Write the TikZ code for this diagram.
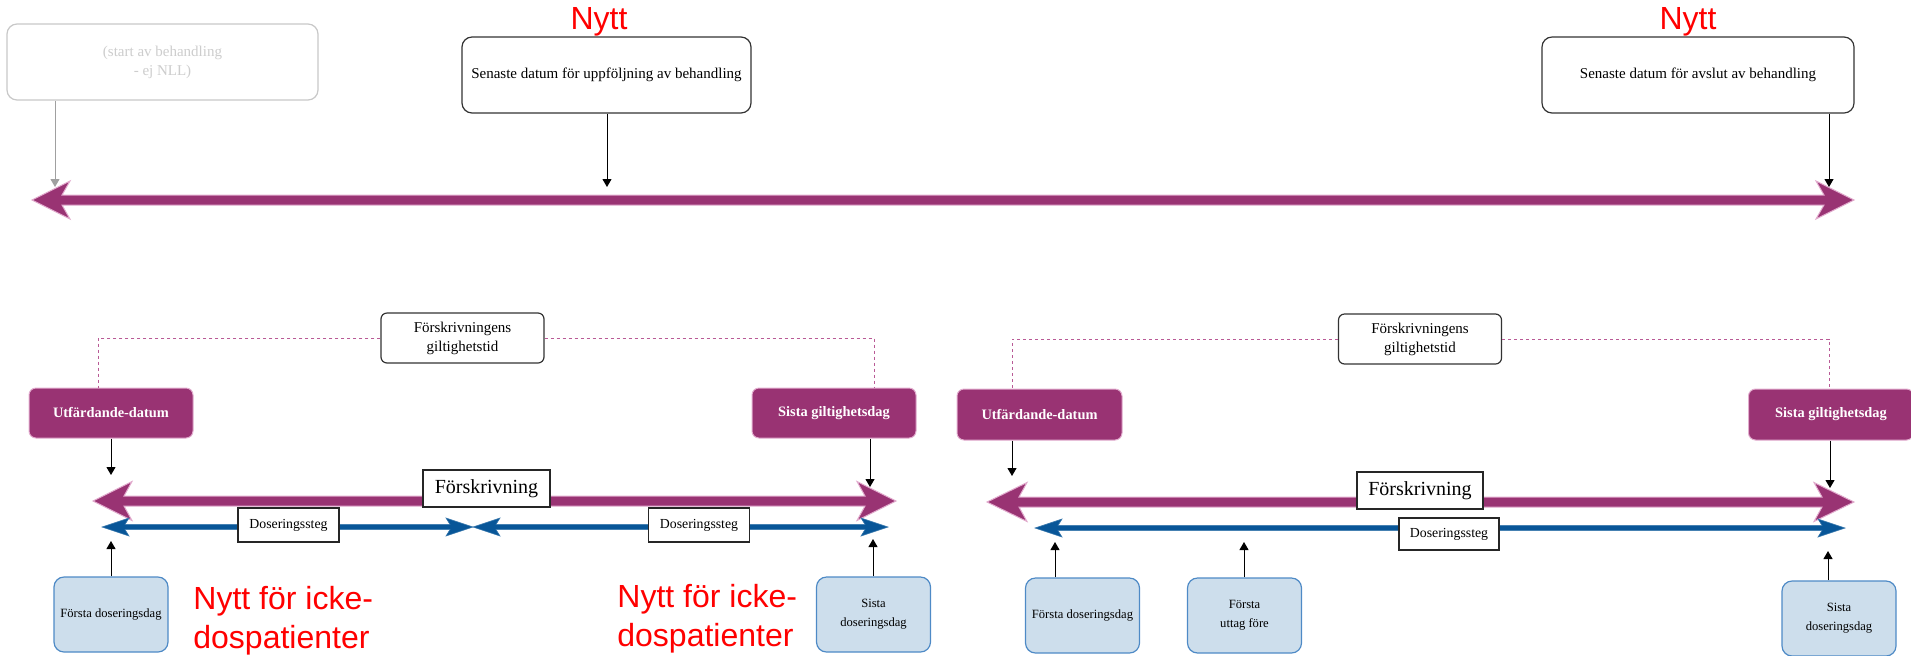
\documentclass[tikz,border=0pt]{standalone}
\usepackage{fontspec}
\setmainfont{Liberation Serif}
\newfontfamily\arialf{Liberation Sans}
\usetikzlibrary{arrows.meta}
\definecolor{purp}{RGB}{153,51,115}
\definecolor{pinkedge}{RGB}{226,172,206}
\definecolor{bluearr}{RGB}{8,86,152}
\definecolor{lightblue}{RGB}{205,222,236}
\definecolor{blueedge}{RGB}{78,138,198}
\definecolor{grayline}{RGB}{200,200,200}
\definecolor{graytext}{RGB}{205,205,205}
\definecolor{grayarrow}{RGB}{160,160,160}
\definecolor{dashcol}{RGB}{185,90,150}
\newcommand{\fatarr}[8]{%
 \filldraw[#1] (#2,#4) -- ({#2+#5},{#4-#6}) -- ({#2+#5-#8},{#4-#7}) -- ({#3-#5+#8},{#4-#7}) -- ({#3-#5},{#4-#6}) -- (#3,#4) -- ({#3-#5},{#4+#6}) -- ({#3-#5+#8},{#4+#7}) -- ({#2+#5-#8},{#4+#7}) -- ({#2+#5},{#4+#6}) -- cycle;}
\tikzset{
  whitebox/.style={draw=black!80, fill=white, rounded corners=5pt, line width=0.6pt, inner sep=0pt, align=center, font=\fontsize{7.5}{9.5}\selectfont},
  graybox/.style={draw=grayline, fill=white, rounded corners=5pt, line width=0.6pt, inner sep=0pt, align=center, text=graytext, font=\fontsize{7.5}{9.5}\selectfont, minimum width=155.5pt, minimum height=38pt},
  purpbox/.style={draw=pinkedge, fill=purp, rounded corners=3.5pt, line width=0.5pt, inner sep=0pt, align=center, text=white, font=\fontsize{7.2}{9}\selectfont\bfseries, minimum width=82pt, minimum height=25pt},
  giltbox/.style={whitebox, rounded corners=3pt, minimum width=81.5pt, minimum height=25pt},
  fskbox/.style={draw=black!85, fill=white, line width=0.6pt, inner sep=0pt, font=\fontsize{10}{12}\selectfont, minimum width=63.5pt, minimum height=18.5pt},
  dosbox/.style={draw=black!85, fill=white, line width=0.6pt, inner sep=0pt, font=\fontsize{6.9}{8}\selectfont, minimum width=50.5pt, minimum height=17pt},
  bluebox/.style={draw=blueedge, fill=lightblue, rounded corners=5pt, line width=0.6pt, inner sep=0pt, align=center, font=\fontsize{6.3}{9.5}\selectfont, minimum width=57pt, minimum height=37.5pt},
  conn/.style={-{Triangle[length=4pt,width=4.5pt]}, line width=0.5pt, black},
  grayconn/.style={-{Triangle[length=4pt,width=4.5pt]}, line width=0.5pt, grayarrow},
  dashconn/.style={draw=dashcol, line width=0.5pt, dash pattern=on 1.5pt off 1.5pt},
  purparrow/.style={fill=purp, draw=pinkedge, line width=0.5pt},
  bluearrow/.style={fill=bluearr, draw=bluearr!80, line width=0.3pt},
  redtext/.style={text=red, font=\arialf\fontsize{16}{19.5}\selectfont, inner sep=0pt}
}
\begin{document}
\begin{tikzpicture}[x=0.5pt,y=-0.5pt]
\useasboundingbox (0,0) rectangle (1911,655);

% ---------- top timeline ----------
\fatarr{purparrow}{32}{1854}{200}{38}{19}{5}{8}

\node[graybox] (gray) at (162.5,62) {(start av behandling\\ - ej NLL)};
\node[whitebox, minimum width=144.5pt, minimum height=38pt] (upp) at (606.5,75) {Senaste datum för uppföljning av behandling};
\node[whitebox, minimum width=156pt, minimum height=38pt] (avs) at (1698,75) {Senaste datum för avslut av behandling};
\node[redtext, anchor=base] (nytt1) at (599,29) {Nytt};
\node[redtext, anchor=base] (nytt2) at (1688,29) {Nytt};

\coordinate (g1) at (55,187);
\coordinate (u1) at (607,187);
\coordinate (a1) at (1829,187);
\draw[grayconn] (gray.south -| g1) -- (g1);
\draw[conn] (upp.south -| u1) -- (u1);
\draw[conn] (avs.south -| a1) -- (a1);

% ---------- lower left ----------
\fatarr{purparrow}{93}{896}{501}{39}{19.5}{5}{8}
\fatarr{bluearrow}{102}{473}{527}{27}{9}{2.6}{4}
\fatarr{bluearrow}{473}{888}{527}{27}{9}{2.6}{4}

\node[giltbox] (gilt1) at (462.5,338) {Förskrivningens\\giltighetstid};
\node[purpbox] (utf1) at (111,413) {Utfärdande-datum};
\node[purpbox] (sgd1) at (834,413) {Sista giltighetsdag};
\node[fskbox] (fsk1) at (486.5,488.5) {Förskrivning};
\node[dosbox] (dos1) at (288.5,525) {Doseringssteg};
\node[dosbox] (dos2) at (699,525) {Doseringssteg};
\node[bluebox] (fd1) at (111,614.5) {Första doseringsdag};
\node[bluebox] (sd1) at (873.5,614.5) {Sista\\doseringsdag};

\coordinate (d1) at (98,388);
\coordinate (d2) at (874,388);
\draw[dashconn] (gilt1.west) -| (d1);
\draw[dashconn] (gilt1.east) -| (d2);

\coordinate (t1) at (111,475);
\coordinate (t2) at (870,487);
\coordinate (t3) at (111,541);
\coordinate (t4) at (873,539);
\draw[conn] (utf1.south -| t1) -- (t1);
\draw[conn] (sgd1.south -| t2) -- (t2);
\draw[conn] (fd1.north -| t3) -- (t3);
\draw[conn] (sd1.north -| t4) -- (t4);

\node[redtext, anchor=north west, align=left] (red1) at (193,586) {Nytt för icke-\\dospatienter};
\node[redtext, anchor=north west, align=left] (red2) at (617,584) {Nytt för icke-\\dospatienter};

% ---------- lower right ----------
\fatarr{purparrow}{987}{1854}{502}{40}{19.5}{5}{8}
\fatarr{bluearrow}{1035}{1845}{528}{27}{9}{2.6}{4}

\node[giltbox] (gilt2) at (1420,339) {Förskrivningens\\giltighetstid};
\node[purpbox, minimum width=82.5pt, minimum height=25.5pt] (utf2) at (1039.5,414.5) {Utfärdande-datum};
\node[purpbox, minimum width=82.5pt, minimum height=25.5pt] (sgd2) at (1831,414.5) {Sista giltighetsdag};
\node[fskbox, minimum width=63pt] (fsk2) at (1420,490.5) {Förskrivning};
\node[dosbox, minimum width=50pt, minimum height=16pt] (dos3) at (1449,534) {Doseringssteg};
\node[bluebox] (fd2) at (1082.5,615.5) {Första doseringsdag};
\node[bluebox] (fu2) at (1244.5,615.5) {Första\\uttag före};
\node[bluebox] (sd2) at (1839,618.5) {Sista\\doseringsdag};

\coordinate (d3) at (1012,389);
\coordinate (d4) at (1829,389);
\draw[dashconn] (gilt2.west) -| (d3);
\draw[dashconn] (gilt2.east) -| (d4);

\coordinate (s1) at (1012,476);
\coordinate (s2) at (1830,488);
\coordinate (s3) at (1055,542);
\coordinate (s4) at (1244,542);
\coordinate (s5) at (1828,551);
\draw[conn] (utf2.south -| s1) -- (s1);
\draw[conn] (sgd2.south -| s2) -- (s2);
\draw[conn] (fd2.north -| s3) -- (s3);
\draw[conn] (fu2.north -| s4) -- (s4);
\draw[conn] (sd2.north -| s5) -- (s5);
\end{tikzpicture}
\end{document}
